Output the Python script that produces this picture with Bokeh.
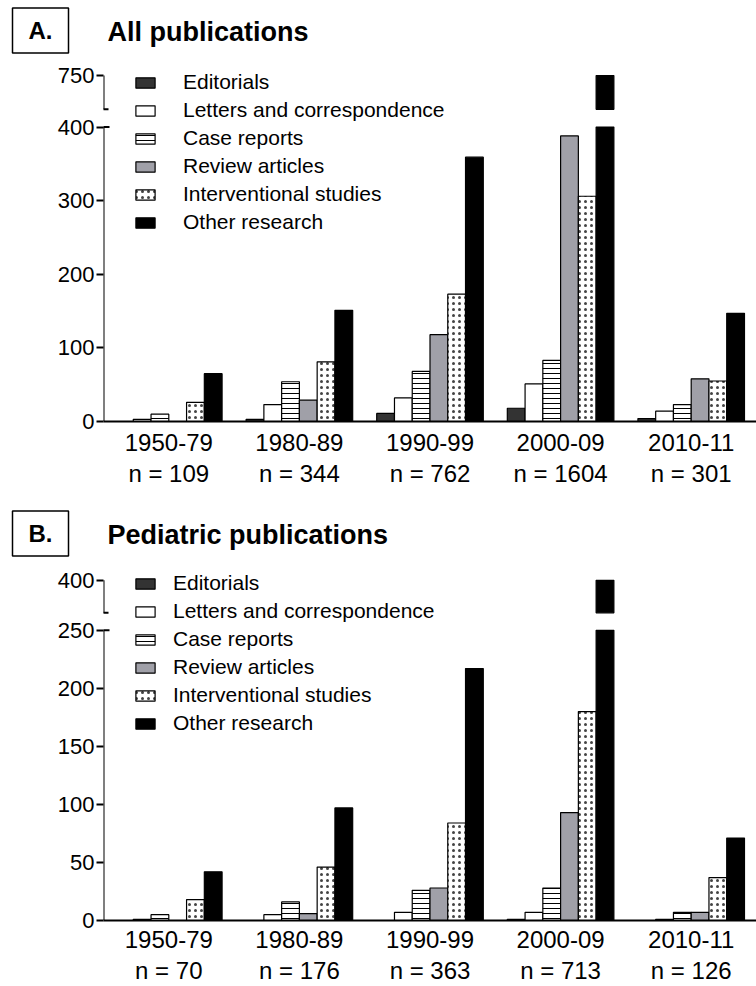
from bokeh.plotting import figure
from bokeh.models import (FactorRange, Range1d, FixedTicker, CategoricalAxis, Whisker, TeeHead,
                          Label, ColumnDataSource, Legend, LegendItem)
from bokeh.transform import dodge
from bokeh.layouts import column
from bokeh.embed import file_html
from bokeh.resources import INLINE

# ---------------- data ----------------
periods = ["1950-79", "1980-89", "1990-99", "2000-09", "2010-11"]
series = ["Editorials", "Letters and correspondence", "Case reports",
          "Review articles", "Interventional studies", "Other research"]

all_n = [109, 344, 762, 1604, 301]
all_editorials = [0, 3, 11, 18, 4]
all_letters = [3, 23, 32, 51, 14]
all_case = [10, 54, 68, 83, 23]
all_review = [0, 29, 118, 388, 58]
all_interv = [26, 81, 173, 306, 55]
all_other = [65, 151, 359, 750, 147]
all_ticks = [0, 100, 200, 300, 400, 750]

ped_n = [70, 176, 363, 713, 126]
ped_editorials = [0, 0, 0, 1, 0]
ped_letters = [1, 5, 7, 7, 1]
ped_case = [5, 16, 26, 28, 7]
ped_review = [0, 6, 28, 93, 7]
ped_interv = [18, 46, 84, 180, 37]
ped_other = [42, 97, 217, 400, 71]
ped_ticks = [0, 50, 100, 150, 200, 250, 400]

FONT = "Liberation Sans"
W = 756
STYLES = [
    dict(fill_color="#333333"),
    dict(fill_color="white"),
    dict(fill_color="white", hatch_pattern="horizontal_line", hatch_scale=5,
         hatch_weight=1, hatch_color="black"),
    dict(fill_color="#a0a0a8"),
    dict(fill_color="white", hatch_pattern="dot", hatch_scale=6,
         hatch_weight=1.3, hatch_color="#444444"),
    dict(fill_color="black"),
]


def make_header(letter, title, height, cy):
    h = figure(width=W, height=height, x_range=Range1d(0, W), y_range=Range1d(height, 0),
               x_axis_type=None, y_axis_type=None, output_backend="svg",
               toolbar_location=None, min_border=0, frame_align=False)
    h.outline_line_color = None
    h.grid.grid_line_color = None
    h.add_layout(Label(x=40, y=cy, text=letter, text_font=FONT, text_font_size="24px",
                       text_font_style="bold", text_color="black",
                       text_align="center", text_baseline="middle",
                       border_line_color="black", border_line_width=1.5,
                       padding=(16, 9)))
    h.add_layout(Label(x=107, y=cy + 1, text=title, text_font=FONT, text_font_size="27px",
                       text_font_style="bold", text_color="black",
                       text_align="left", text_baseline="middle"))
    return h


def make_panel(ns, values, ticks, lo_break, up_lo, gap, up_span, top_pad,
               height, border_bottom, label_standoff, legend_y, std1, std2):
    up_hi = ticks[-1]

    def tr(v):
        if v <= lo_break:
            return v
        return lo_break + gap + (v - up_lo) * up_span / (up_hi - up_lo)

    top = tr(up_hi)
    n_labels = [f"n = {n}" for n in ns]
    p = figure(width=W, height=height,
               x_range=FactorRange(*periods, range_padding=0),
               y_range=Range1d(0, top + top_pad),
               output_backend="svg", toolbar_location=None,
               min_border_left=103, min_border_right=0, min_border_top=5,
               min_border_bottom=border_bottom, frame_align=False)
    p.extra_x_ranges = {"n": FactorRange(*n_labels, range_padding=0)}
    p.outline_line_color = None
    p.grid.grid_line_color = None

    w = 0.136
    items = []
    for i, (name, vals, st) in enumerate(zip(series, values, STYLES)):
        off = (i - 2.5) * w
        src = ColumnDataSource(dict(period=periods, top=[min(v, lo_break) for v in vals]))
        r = p.vbar(x=dodge("period", off, range=p.x_range), top="top", bottom=0,
                   width=w, source=src, line_color="black", line_width=1.2, **st)
        hi = [(per, v) for per, v in zip(periods, vals) if v > lo_break]
        if hi:
            src2 = ColumnDataSource(dict(period=[h[0] for h in hi],
                                         top=[tr(h[1]) for h in hi],
                                         bottom=[tr(up_lo)] * len(hi)))
            p.vbar(x=dodge("period", off, range=p.x_range), top="top", bottom="bottom",
                   width=w, source=src2, line_color="black", line_width=1.2, **st)
        items.append(LegendItem(label=name, renderers=[r]))

    legend = Legend(items=items, location=(30, legend_y), glyph_width=24, glyph_height=13,
                    label_standoff=label_standoff, label_text_font=FONT,
                    label_text_font_size="21px", label_text_color="black",
                    label_height=20, spacing=4,
                    padding=0, margin=0, border_line_color=None,
                    background_fill_alpha=0)
    p.add_layout(legend)

    # y axis (ticks and labels), with a broken axis line drawn by whiskers
    yax = p.yaxis[0]
    yax.ticker = FixedTicker(ticks=[tr(t) for t in ticks])
    yax.major_label_overrides = {tr(t): str(t) for t in ticks}
    yax.axis_line_color = None
    yax.major_tick_out = 7
    yax.major_tick_in = 0
    yax.major_tick_line_width = 2
    yax.minor_tick_line_color = None
    yax.major_label_standoff = 2
    yax.major_label_text_font = FONT
    yax.major_label_text_font_size = "22px"
    yax.major_label_text_color = "black"

    p.add_layout(Whisker(base=0, lower=0, upper=lo_break, dimension="height",
                         line_color="black", line_width=2,
                         upper_head=TeeHead(size=12, line_width=2), lower_head=None))
    p.add_layout(Whisker(base=0, lower=tr(up_lo), upper=top, dimension="height",
                         line_color="black", line_width=2,
                         lower_head=TeeHead(size=10, line_width=2), upper_head=None))

    # x axes: period, then n
    xax = p.xaxis[0]
    xax.axis_line_width = 2
    xax.major_tick_line_color = None
    xax.minor_tick_line_color = None
    xax.major_label_standoff = std1
    xax.major_label_text_font = FONT
    xax.major_label_text_font_size = "24px"
    xax.major_label_text_color = "black"

    ax2 = CategoricalAxis(x_range_name="n",
                          axis_line_color=None, major_tick_line_color=None,
                          minor_tick_line_color=None, major_label_standoff=std2,
                          major_label_text_font=FONT, major_label_text_font_size="24px",
                          major_label_text_color="black")
    p.add_layout(ax2, "below")
    return p


hA = make_header("A.", "All publications", 60, 30)
pA = make_panel(all_n,
                [all_editorials, all_letters, all_case, all_review, all_interv, all_other],
                all_ticks, 400, 700, 24, 46, 13.6, 445, 84, 26, 187, 6, 0)
hB = make_header("B.", "Pediatric publications", 60, 28)
pB = make_panel(ped_n,
                [ped_editorials, ped_letters, ped_case, ped_review, ped_interv, ped_other],
                ped_ticks, 250, 375, 15, 28, 8.5, 421, 62, 16, 185, 4, 0)

layout = column(hA, pA, hB, pB, spacing=0)
open("out.html", "w").write(file_html(layout, INLINE))
